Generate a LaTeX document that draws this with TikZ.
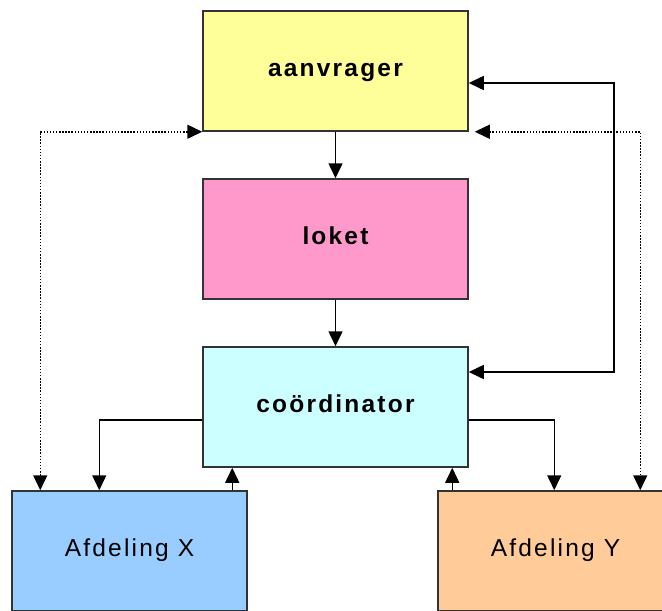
\documentclass[tikz,border=0pt]{standalone}
\usepackage{fontspec}
\setmainfont{Liberation Sans}
\newfontfamily\spaced[LetterSpace=9]{Liberation Sans}
\usepackage{tikz}
\usetikzlibrary{arrows.meta, positioning}

\begin{document}
\begin{tikzpicture}[x=1pt, y=-1pt,
    box/.style={draw=black!80, line width=1.5pt, minimum width=265pt, minimum height=120pt,
        inner sep=0pt, text height=16pt, text depth=6pt, font=\spaced\fontsize{24.5}{28}\selectfont},
    dept/.style={box, minimum width=235pt},
    flow/.style={line width=1.5pt, -{Triangle[length=15pt, width=14pt]}},
    both/.style={flow, {Triangle[length=15pt, width=14pt]}-{Triangle[length=15pt, width=14pt]}},
    dots/.style={both, line width=1.5pt, dash pattern=on 1.5pt off 1.6pt}]
    \useasboundingbox (0,0) rectangle (662,611);

    % de drie rollen onder elkaar
    \node[box, fill={rgb,255:red,255;green,255;blue,153}] (aanvrager) at (335.5,71) {\bfseries aanvrager};
    \node[box, fill={rgb,255:red,255;green,153;blue,204}, below=46.5pt of aanvrager] (loket) {\bfseries loket};
    \node[box, fill={rgb,255:red,204;green,255;blue,255}, below=46.5pt of loket] (coord) {\bfseries co\"ordinator};

    % afdelingen
    \node[dept, fill={rgb,255:red,153;green,204;blue,255}] (afdX) at (129.5,551) {Afdeling X};
    \node[dept, fill={rgb,255:red,255;green,204;blue,153}] (afdY) at (555.5,551) {Afdeling Y};

    \draw[flow] (aanvrager) -- (loket);
    \draw[flow] (loket) -- (coord);
    \draw[both] ([yshift=-12pt]aanvrager.east) -| (614,200) |- ([yshift=35pt]coord.east);

    \draw[flow] ([yshift=-13pt]coord.west) -| ([xshift=88pt]afdX.north west);
    \draw[flow] ([xshift=221pt]afdX.north west) -- ([xshift=221pt]afdX.north west |- coord.south);
    \draw[flow] ([yshift=-13pt]coord.east) -| ([xshift=117pt]afdY.north west);
    \draw[flow] ([xshift=15pt]afdY.north west) -- ([xshift=15pt]afdY.north west |- coord.south);

    % gestippelde terugkoppeling
    \draw[dots] (aanvrager.south west) -| ([xshift=29pt]afdX.north west);
    \draw[dots] ([xshift=6pt]aanvrager.south east) -| ([xshift=203pt]afdY.north west);
\end{tikzpicture}
\end{document}
